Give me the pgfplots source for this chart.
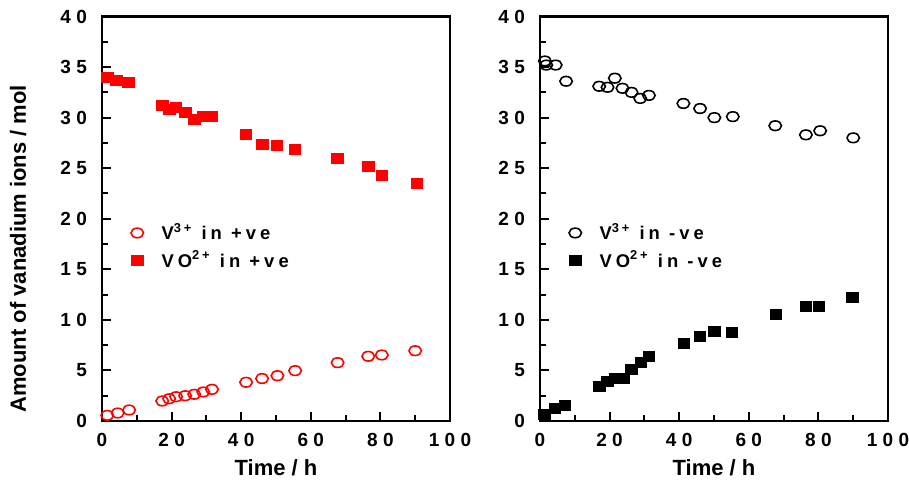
\documentclass[border=0pt]{standalone}
\usepackage{fontspec}
\setmainfont{Liberation Sans}
\newfontfamily\tickfont{Liberation Sans}[LetterSpace=28]
\newfontfamily\legfont{Liberation Sans}[LetterSpace=22]
\usepackage{pgfplots}
\pgfplotsset{compat=1.18}

\pgfplotsset{panel/.style={
  scale only axis, width=174pt, height=202.25pt,
  xmin=0, xmax=100, ymin=0, ymax=40,
  xtick={0,20,...,100}, ytick={0,5,...,40},
  minor x tick num=1, minor y tick num=1,
  tick align=inside, xtick pos=bottom, ytick pos=left,
  axis line style={line width=1.4pt},
  every tick/.style={black, line width=1pt},
  major tick length=4.5pt, minor tick length=3pt,
  tick label style={font=\tickfont\bfseries\fontsize{9.5}{11}\selectfont},
  /pgf/number format/assume math mode=true,
  xticklabel style={yshift=-2.5pt},
  yticklabel style={xshift=-4pt},
  label style={font=\bfseries\fontsize{11}{13}\selectfont},
  xlabel={Time / h},
  xlabel style={at={(axis description cs:0.5,-0.116)}, anchor=center},
  legend style={draw=none, fill=none, at={(0.065,0.51)}, anchor=north west,
    font=\legfont\bfseries\fontsize{9.2}{10}\selectfont, row sep=0pt},
  legend cell align=left,
  legend image code/.code={\path (0cm,0cm) (0.45cm,0cm);
    \draw[#1] plot coordinates {(0.1cm,0cm)};},
  opencirc/.style={only marks, mark=o, mark size=2.4pt, mark options={xscale=1.3, line width=0.8pt}},
  sq/.style={only marks, mark=square*, mark size=2.5pt, mark options={xscale=1.15}},
}}

\begin{document}
\begin{tikzpicture}
\path[use as bounding box] (0,0) rectangle (454.5pt,241.5pt);

% positive electrolyte
\begin{axis}[panel, at={(51pt,31pt)}, anchor=south west,
  ylabel={Amount of vanadium ions / mol},
  ylabel style={at={(axis description cs:-0.241,0.426)}, anchor=center}]
\addplot[opencirc, red] table {
t v
1.5 0.56
4.5 0.79
7.8 1.09
17.3 1.98
19.3 2.2
21.3 2.4
23.9 2.5
26.5 2.64
29.1 2.87
31.6 3.13
41.4 3.83
46.0 4.2
50.4 4.48
55.5 4.98
67.7 5.77
76.5 6.4
80.4 6.53
90.0 6.95
};
\addlegendentry{V\textsuperscript{3+} in +ve}
\addplot[sq, red] table {
t v
1.5 34.0
4.2 33.7
7.6 33.5
17.4 31.2
19.3 30.8
21.3 31.0
23.9 30.5
26.5 29.8
29.1 30.1
31.5 30.1
41.4 28.3
46.1 27.4
50.3 27.3
55.5 26.9
67.6 26.0
76.6 25.2
80.5 24.3
90.5 23.5
};
\addlegendentry{VO\textsuperscript{2+} in +ve}
\end{axis}

% negative electrolyte
\begin{axis}[panel, at={(270pt,31pt)}, anchor=south west]
\addplot[opencirc, black] table {
t v
1.4 35.6
1.8 35.2
4.5 35.2
7.5 33.6
17.0 33.1
19.4 33.0
21.5 33.9
23.7 32.9
26.3 32.5
28.8 31.9
31.3 32.2
41.2 31.4
46.0 30.9
50.1 30.0
55.4 30.1
67.6 29.2
76.4 28.3
80.5 28.7
90.0 28.0
};
\addlegendentry{V\textsuperscript{3+} in -ve}
\addplot[sq, black] table {
t v
1.2 0.69
4.3 1.29
7.2 1.58
17.0 3.46
19.3 3.96
21.6 4.2
23.9 4.2
26.3 5.14
29.0 5.8
31.3 6.4
41.3 7.68
46.0 8.34
50.1 8.9
55.2 8.77
67.8 10.5
76.4 11.3
80.2 11.3
89.8 12.2
};
\addlegendentry{VO\textsuperscript{2+} in -ve}
\end{axis}
\end{tikzpicture}
\end{document}
